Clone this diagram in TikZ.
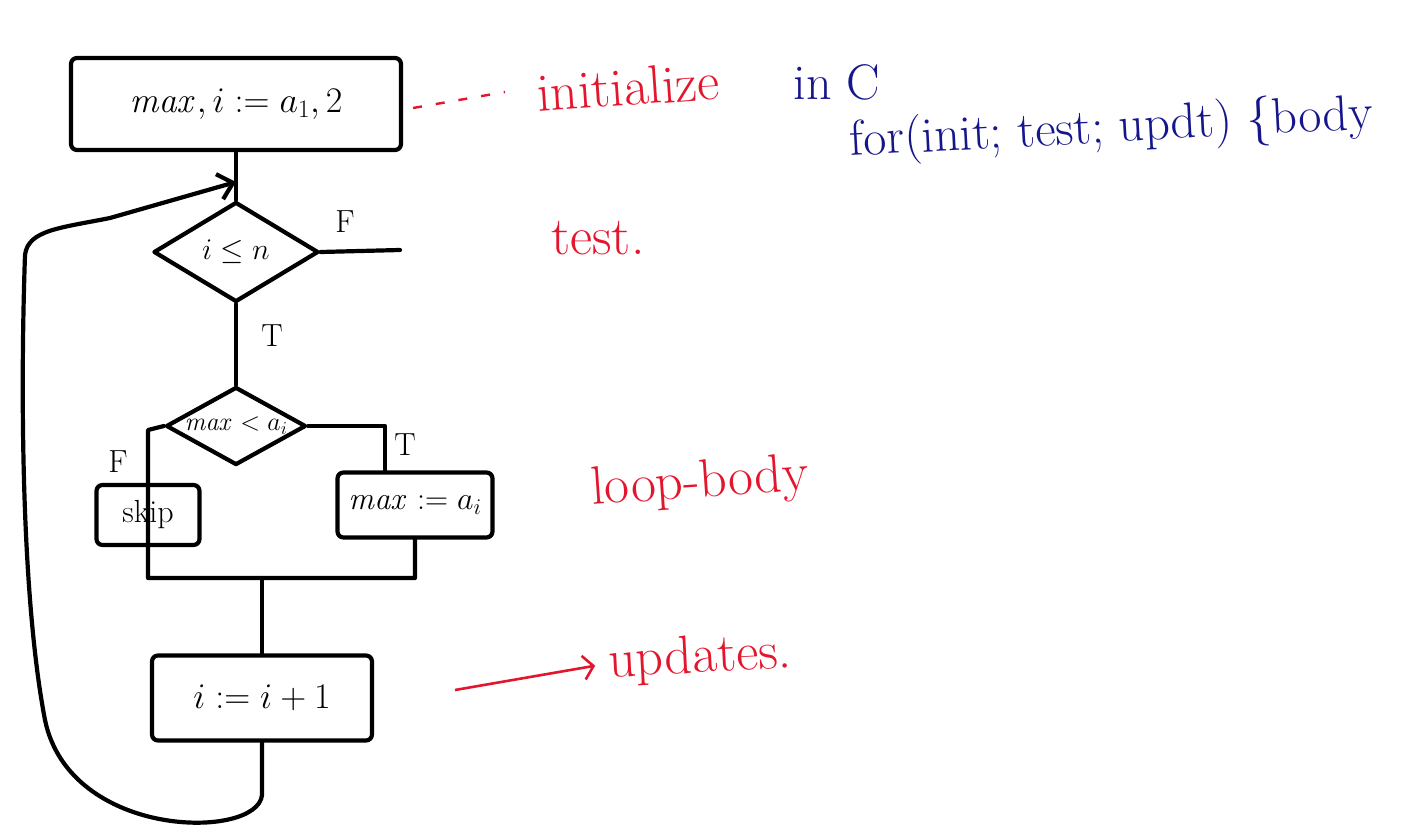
\RequirePackage{fix-cm}
\documentclass[tikz,border=0pt]{standalone}
\usetikzlibrary{shapes.geometric,arrows.meta}
\definecolor{inkred}{RGB}{228,22,45}
\definecolor{inkblue}{RGB}{22,22,140}
\tikzset{
  ink/.style={line width=4.2pt, line cap=round, line join=round},
  procbox/.style={draw, ink, rounded corners=6pt, inner sep=4pt, font=\fontsize{36}{40}\selectfont},
  decbox/.style={draw, ink, diamond, inner sep=0pt, aspect=1.7},
  lbl/.style={font=\fontsize{32}{36}\selectfont},
  note/.style={text=inkred, font=\fontsize{54}{60}\selectfont},
}
\begin{document}
\begin{tikzpicture}[x=1pt,y=-1pt]
\useasboundingbox (0,0) rectangle (1411,832);
\fill[white] (0,0) rectangle (1411,832);

% nodes
\node[procbox, minimum width=330pt, minimum height=92pt] (init) at (236,104) {$\mathit{max}, i := a_1, 2$};
\node[decbox, minimum width=165pt, minimum height=100pt, font=\fontsize{30}{34}\selectfont] (d1) at (236,252) {$i \le n$};
\node[decbox, minimum width=140pt, minimum height=78pt, font=\fontsize{26}{30}\selectfont] (d2) at (236,426) {$\mathit{max} < a_i$};
\node[procbox, minimum width=103pt, minimum height=60pt, font=\fontsize{32}{36}\selectfont] (skip) at (148,515) {skip};
\node[procbox, minimum width=155pt, minimum height=65pt, font=\fontsize{32}{36}\selectfont] (mx) at (415,505) {$\mathit{max} := a_i$};
\node[procbox, minimum width=220pt, minimum height=85pt] (upd) at (262,698) {$i := i + 1$};

% coordinates
\coordinate (arr) at (init.south |- 0,182);
\coordinate (fend) at (400,250);
\coordinate (fl) at (148,430);
\coordinate (fb) at (148,578);
\coordinate (tb) at (mx.south |- 0,578);
\coordinate (tt) at (385,426);
\coordinate (j) at (upd.north |- 0,578);
\coordinate (lp) at (upd.south |- 0,795);

% connectors
\draw[ink] (init.south) -- (d1.north);
\draw[ink] (d1.east) -- (fend);
\draw[ink] (d1.south) -- (d2.north);
\draw[ink] (d2.east) -- (tt) -- (tt |- mx.north);
\draw[ink] (d2.west) -- (fl) -- (fb) -- (tb) -- (mx.south);
\draw[ink] (j) -- (upd.north);
\draw[ink, -{Straight Barb[length=14pt,width=26pt,line width=4.2pt]}]
  (upd.south) -- (lp) .. controls (258,840) and (70,840) .. (45,720)
  .. controls (22,600) and (20,400) .. (25,255)
  .. controls (28,230) and (60,228) .. (110,218) -- (arr);

% branch labels
\node[lbl] (lf1) at (345,222) {F};
\node[lbl] (lt1) at (272,336) {T};
\node[lbl] (lt2) at (405,445) {T};
\node[lbl] (lf2) at (118,462) {F};

% annotations
\draw[inkred, line width=2.4pt, dash pattern=on 9pt off 14pt] (init.east) ++(10pt,-4pt) coordinate (dsA) -- (505,92) coordinate (dsB);
\node[note, anchor=south west, rotate=4] (ini) at (535,116) {initialize};
\node[text=inkblue, font=\fontsize{50}{56}\selectfont, anchor=south west] (inc) at (790,104) {in C};
\node[text=inkblue, font=\fontsize{50}{56}\selectfont, anchor=south west, rotate=3] (forl) at (848,172) {for(init; test; updt) \{body};
\node[note, anchor=south west] (tst) at (548,258) {test.};
\node[note, rotate=4] (lb) at (700,484) {loop-body};
\coordinate (ua) at (455,690);
\node[note, rotate=3, anchor=west] (upn) at (605,664) {updates.};
\draw[inkred, line width=2.6pt, shorten >=10pt, -{Straight Barb[length=10pt,width=24pt,line width=2.6pt]}] (ua) -- (upn.west);
\end{tikzpicture}
\end{document}
